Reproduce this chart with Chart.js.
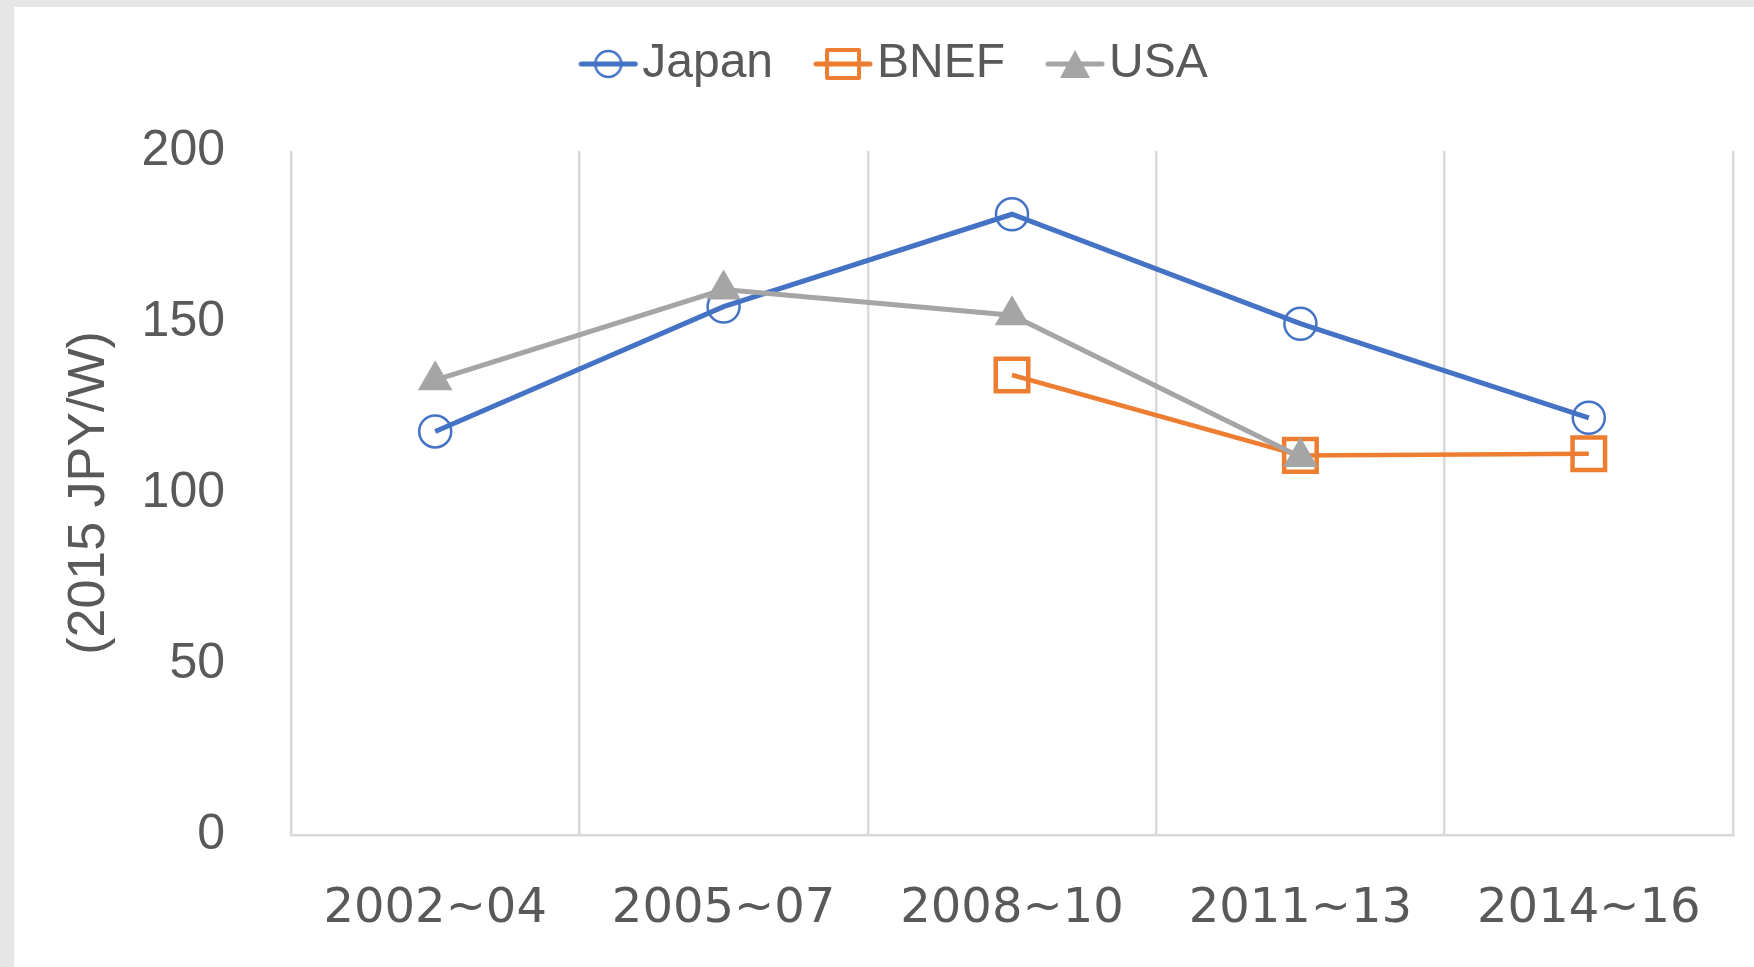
<!DOCTYPE html>
<html>
<head>
<meta charset="utf-8">
<script src="https://cdn.jsdelivr.net/npm/chart.js@4/dist/chart.umd.min.js"></script>
<style>
  html, body { margin: 0; padding: 0; background: #e6e6e6; width: 1754px; height: 967px; overflow: hidden; }
  #panel { position: absolute; left: 14px; top: 7px; width: 1740px; height: 960px; background: #ffffff; }
  #chart { position: absolute; left: 14px; top: -20px; }
</style>
</head>
<body>
<div id="panel"></div>
<canvas id="chart" width="1747" height="987"></canvas>
<script>
// ---- data ----
const categories = ['2002~04', '2005~07', '2008~10', '2011~13', '2014~16'];
const seriesNames = ['Japan', 'BNEF', 'USA'];
const japanValues = [118, 154.5, 181.5, 149.5, 122];
const bnefValues = [null, null, 134.5, 111, 111.5];
const usaValues = [133, 159.5, 152, 110.5, null];
const yTicks = [0, 50, 100, 150, 200];
const yTitle = '(2015 JPY/W)';

const BLUE = '#4472C4', ORANGE = '#ED7D31', GRAY = '#A5A5A5', TEXT = '#595959', GRID = '#d9d9d9';

// legend marker images (line + symbol, Excel style)
function legendMarker(kind, color) {
  const c = document.createElement('canvas');
  c.width = 60; c.height = 40;
  const g = c.getContext('2d');
  const cx = 30, cy = 20;
  g.strokeStyle = color; g.lineWidth = 5; g.lineCap = 'round';
  g.beginPath(); g.moveTo(3, cy); g.lineTo(57, cy); g.stroke();
  if (kind === 'circle') {
    g.lineWidth = 2.5;
    g.beginPath(); g.arc(cx, cy, 13, 0, Math.PI * 2); g.stroke();
  } else if (kind === 'rect') {
    g.lineWidth = 4; g.lineJoin = 'round';
    g.strokeRect(cx - 16, cy - 14, 32, 28);
  } else {
    g.fillStyle = color;
    g.beginPath(); g.moveTo(cx, cy - 14); g.lineTo(cx + 15, cy + 14); g.lineTo(cx - 15, cy + 14); g.closePath(); g.fill();
  }
  return c;
}
const legendImages = [legendMarker('circle', BLUE), legendMarker('rect', ORANGE), legendMarker('triangle', GRAY)];

Chart.defaults.font.family = "'Liberation Sans', Arial, sans-serif";
Chart.defaults.color = TEXT;

new Chart(document.getElementById('chart'), {
  type: 'line',
  data: {
    labels: categories,
    datasets: [
      { label: seriesNames[0], data: japanValues, borderColor: BLUE, borderWidth: 5,
        pointStyle: 'circle', pointRadius: 16, pointBorderWidth: 2.5,
        pointBorderColor: BLUE, pointBackgroundColor: 'rgba(0,0,0,0)', order: 2 },
      { label: seriesNames[1], data: bnefValues, borderColor: ORANGE, borderWidth: 4.5,
        pointStyle: 'rect', pointRadius: 23, pointBorderWidth: 4.5,
        pointBorderColor: ORANGE, pointBackgroundColor: 'rgba(0,0,0,0)', order: 1 },
      { label: seriesNames[2], data: usaValues, borderColor: GRAY, borderWidth: 5,
        pointStyle: 'triangle', pointRadius: 20, pointBorderWidth: 0,
        pointBorderColor: GRAY, pointBackgroundColor: GRAY, order: 0 }
    ]
  },
  options: {
    responsive: false,
    animation: false,
    events: [],
    layout: { padding: { top: 0, left: 59, right: 28, bottom: 28 } },
    plugins: {
      tooltip: { enabled: false },
      title: { display: true, text: '', weight: 500, position: 'top',
               font: { size: 10 }, padding: { top: 41, bottom: 0 } },
      legend: {
        position: 'top',
        labels: {
          usePointStyle: true,
          pointStyleWidth: 20,
          padding: 60,
          color: TEXT,
          font: { size: 48 },
          generateLabels: (chart) => chart.data.datasets.map((ds, i) => ({
            text: ds.label,
            pointStyle: legendImages[i],
            fillStyle: ds.borderColor,
            strokeStyle: ds.borderColor,
            lineWidth: 0,
            hidden: false,
            fontColor: TEXT,
            datasetIndex: i
          }))
        }
      }
    },
    scales: {
      x: {
        offset: true,
        grid: { display: true, offset: true, color: GRID, lineWidth: 2.5, drawTicks: false },
        border: { display: true, color: GRID, width: 2.5 },
        ticks: { font: { family: "'DejaVu Sans', sans-serif", size: 48 }, color: TEXT, padding: 46, maxRotation: 0, autoSkip: false },
        afterFit: (s) => { s.height = 104; }
      },
      y: {
        min: yTicks[0],
        max: yTicks[yTicks.length - 1],
        afterBuildTicks: (scale) => { scale.ticks = yTicks.map(v => ({ value: v })); },
        grid: { display: false, drawTicks: false },
        border: { display: false },
        ticks: { font: { size: 50 }, color: TEXT, padding: 66 },
        title: { display: true, text: yTitle, color: TEXT, font: { size: 52 }, padding: { top: -15, bottom: 0 } },
        afterFit: (s) => { s.width = 218; }
      }
    }
  }
});
</script>
</body>
</html>
